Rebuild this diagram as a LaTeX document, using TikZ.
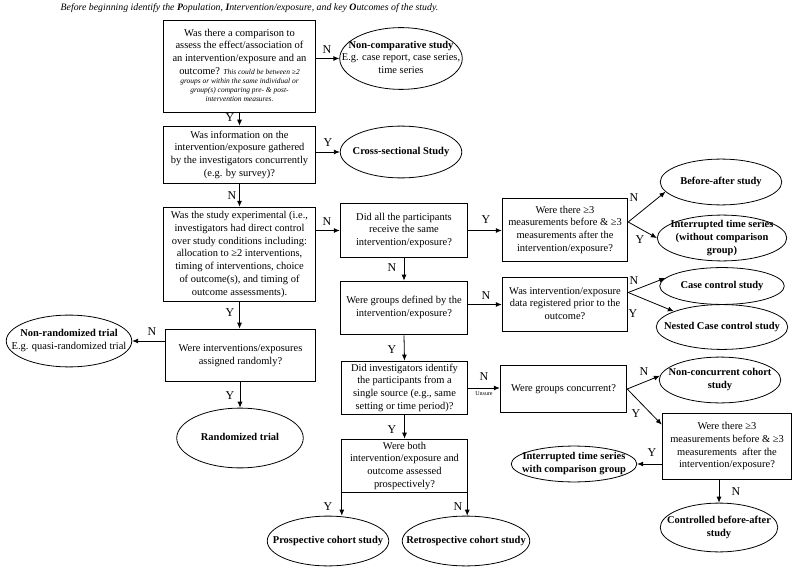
\documentclass[tikz,border=0pt]{standalone}
\usepackage{fontspec}
\setmainfont{Liberation Serif}
\usetikzlibrary{arrows.meta,shapes.geometric,calc}
\newcommand\fs{\fontsize{10.5}{12.8}\selectfont}
\newcommand\fsi{\fontsize{7.5}{9}\selectfont\itshape}
\newcommand\tx[1]{\makebox[0pt]{\smash{\raisebox{-2.5pt}{\begin{tabular}{@{}c@{}}#1\end{tabular}}}}}
\begin{document}
\begin{tikzpicture}[x=1bp,y=-1bp,
  qbox/.style={draw, rectangle, line width=0.9pt, inner sep=0pt, font=\fs},
  ell/.style={draw, ellipse, line width=0.8pt, inner sep=0pt, font=\fs\bfseries},
  lab/.style={font=\fontsize{12}{12}\selectfont, inner sep=0pt},
  arr/.style={-{Latex[length=6pt,width=5pt]}, line width=0.8pt}
]
\useasboundingbox (0,0) rectangle (796,571);

\node[inner sep=0pt, font=\fontsize{9.85}{11}\selectfont\itshape] (title) at (249.5,8)
  {Before beginning identify the \textbf{P}opulation, \textbf{I}ntervention/exposure, and key \textbf{O}utcomes of the study.};

% column 1
\node[qbox, minimum width=153, minimum height=93] (b1) at (239.5,66.5) {\tx{Was there a comparison to\\ assess the effect/association of\\ an intervention/exposure and an\\ outcome? {\fsi This could be between ≥2}\\[-3.8pt] {\fsi groups or within the same individual or}\\[-3.8pt] {\fsi group(s) comparing pre- \& post-}\\[-3.8pt] {\fsi intervention measures.}}};
\node[ell, minimum width=123, minimum height=62] (e1) at (401,58.5) {\tx{Non-comparative study\\ \mdseries E.g. case report, case series,\\ \mdseries time series}};

\node[qbox, minimum width=153, minimum height=58] (b2) at (239.5,155) {\tx{Was information on the\\ intervention/exposure gathered\\ by the investigators concurrently\\ (e.g. by survey)?}};
\node[ell, minimum width=122, minimum height=52] (e2) at (401,152) {\tx{Cross-sectional Study}};

\node[qbox, minimum width=153, minimum height=95] (b3) at (239.5,254.5) {\tx{Was the study experimental (i.e.,\\ investigators had direct control\\ over study conditions including:\\ allocation to ≥2 interventions,\\ timing of interventions, choice\\ of outcome(s), and timing of\\ outcome assessments).}};

\node[qbox, minimum width=151, minimum height=53] (b4) at (240.5,355.5) {\tx{Were interventions/exposures\\ assigned randomly?}};
\node[ell, minimum width=126, minimum height=52] (e3) at (69,341) {\tx{Non-randomized trial\\ \mdseries E.g. quasi-randomized trial}};
\node[ell, minimum width=127, minimum height=60] (e4) at (240,438) {\tx{Randomized trial}};

% column 2
\node[qbox, minimum width=128, minimum height=55] (b5) at (404,230.5) {\tx{Did all the participants\\ receive the same\\ intervention/exposure?}};
\node[qbox, minimum width=128, minimum height=54] (b6) at (404,308) {\tx{Were groups defined by the\\ intervention/exposure?}};
\node[qbox, minimum width=127, minimum height=54] (b7) at (404.5,388) {\tx{Did investigators identify\\ the participants from a\\ single source (e.g., same\\ setting or time period)?}};
\node[qbox, minimum width=127, minimum height=54] (b8) at (404.5,466) {\tx{Were both\\ intervention/exposure and\\ outcome assessed\\ prospectively?}};
\node[ell, minimum width=122, minimum height=50] (e5) at (328,541) {\tx{Prospective cohort study}};
\node[ell, minimum width=128, minimum height=50] (e6) at (466,541) {\tx{Retrospective cohort study}};

% column 3
\node[qbox, minimum width=126, minimum height=64] (b9) at (565,230) {\tx{Were there ≥3\\ measurements before \& ≥3\\ measurements after the\\ intervention/exposure?}};
\node[ell, minimum width=122, minimum height=46] (e7) at (721,182) {\tx{Before-after study}};
\node[ell, minimum width=130, minimum height=46] (e8) at (722,238) {\tx{Interrupted time series\\ (without comparison\\ group)}};

\node[qbox, minimum width=126, minimum height=55] (b10) at (565,304.5) {\tx{Was intervention/exposure\\ data registered prior to the\\ outcome?}};
\node[ell, minimum width=125, minimum height=37] (e9) at (722,286) {\tx{Case control study}};
\node[ell, minimum width=132, minimum height=45] (e10) at (722,327) {\tx{Nested Case control study}};

\node[qbox, minimum width=127, minimum height=48] (b11) at (563.5,389) {\tx{Were groups concurrent?}};
\node[ell, minimum width=122, minimum height=46] (e11) at (720,380) {\tx{Non-concurrent cohort\\ study}};

\node[qbox, minimum width=130, minimum height=67] (b12) at (727,446.5) {\tx{Were there ≥3\\ measurements before \& ≥3\\ measurements\ \ after the\\ intervention/exposure?}};
\node[ell, minimum width=126, minimum height=36] (e12) at (574,464) {\tx{Interrupted time series\\ with comparison group}};
\node[ell, minimum width=118, minimum height=49] (e13) at (719,527.5) {\tx{Controlled before-after\\ study}};

% helper coordinates
\coordinate (s8l) at ($(b8.south west)+(1,0)$);
\coordinate (s8r) at ($(b8.south east)+(-1,0)$);
\coordinate (s9) at ($(b9.east)+(0,-8)$);
\coordinate (s10) at ($(b10.east)+(0,-12)$);
\coordinate (t12) at ($(b12.north west)+(0,12)$);
\coordinate (s12) at ($(b12.west)+(0,17.5)$);

% connectors
\draw[arr] (b1.east |- e1.west) -- (e1.west);
\draw[arr] (b1.south) -- (b2.north);
\draw[arr] (b2.east |- e2.west) -- (e2.west);
\draw[arr] (b2.south) -- (b3.north);
\draw[arr] (b3.east |- b5.west) -- (b5.west);
\draw[arr] (b3.south) -- (b3.south |- b4.north);
\draw[arr] (b4.west |- e3.east) -- (e3.east);
\draw[arr] (b4.south -| e4.north) -- (e4.north);

\draw[arr] (b5.east) -- (b5.east -| b9.west);
\draw[arr] (b5.south) -- (b6.north);
\draw[arr] (b6.east |- b10.west) -- (b10.west);
\draw[arr] (b6.south) -- (b7.north);
\draw[arr] (b7.east) -- (b7.east -| b11.west);
\draw[arr] (b7.south) -- (b8.north);
\draw[arr] (s8l) -- (s8l |- e5.north);
\draw[arr] (s8r) -- (s8r |- e6.north);

\draw[arr] (s9) -- (e7.190);
\draw[arr] (s9) -- (e8.west);
\draw[arr] (s10) -- (e9.172);
\draw[arr] (s10) -- (e10.162);
\draw[arr] (b11.east) -- (e11.176);
\draw[arr] (b11.east) -- (t12);
\draw[arr] (s12) -- (s12 -| e12.east);
\draw[arr] (b12.south -| e13.north) -- (e13.north);

% labels
\node[lab] (l1) at (327,50) {N};
\node[lab] (l2) at (230,118) {Y};
\node[lab] (l3) at (328,143) {Y};
\node[lab] (l4) at (232,196) {N};
\node[lab] (l5) at (327,222) {N};
\node[lab] (l6) at (230,313) {Y};
\node[lab] (l7) at (152,332) {N};
\node[lab] (l8) at (230,396) {Y};
\node[lab] (l9) at (486,220) {Y};
\node[lab] (l10) at (392,268) {N};
\node[lab] (l11) at (486,296) {N};
\node[lab] (l12) at (392,350) {Y};
\node[lab] (l13) at (484,377) {N};
\node[inner sep=0pt, font=\fontsize{6}{6}\selectfont] (l13u) at (484,394) {Unsure};
\node[lab] (l14) at (392,430) {Y};
\node[lab] (l15) at (328,507) {Y};
\node[lab] (l16) at (458,507) {N};
\node[lab] (l17) at (634,198) {N};
\node[lab] (l18) at (640,240) {Y};
\node[lab] (l19) at (634,281) {N};
\node[lab] (l20) at (633,314) {Y};
\node[lab] (l21) at (644,372) {N};
\node[lab] (l22) at (636,414) {Y};
\node[lab] (l23) at (652,453) {Y};
\node[lab] (l24) at (736,492) {N};
\end{tikzpicture}
\end{document}
